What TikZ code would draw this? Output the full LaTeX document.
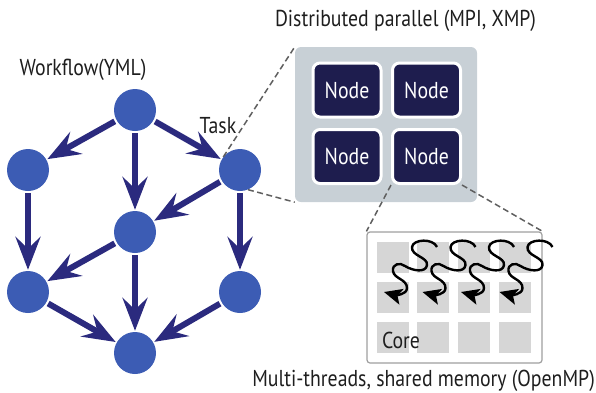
\documentclass[tikz,border=0pt]{standalone}
\usepackage{fontspec}
\setmainfont{PT Sans}[FakeStretch=0.86]
\usetikzlibrary{arrows.meta}
\definecolor{circ}{RGB}{60,92,180}
\definecolor{arrc}{RGB}{43,42,126}
\definecolor{nodebg}{RGB}{30,29,78}
\definecolor{grayboxc}{RGB}{200,208,214}
\definecolor{coresqc}{RGB}{214,214,214}
\definecolor{dashc}{RGB}{95,95,95}
\definecolor{txt}{RGB}{30,30,30}
\begin{document}
\begin{tikzpicture}[x=1pt,y=-1pt,
  taskdot/.style={circle,fill=circ,minimum size=42pt,inner sep=0pt},
  flow/.style={draw=arrc,line width=6pt,-{Stealth[length=33pt,width=25pt,inset=12pt]},shorten <=2pt,shorten >=1pt},
  lbl/.style={font=\fontsize{23}{27}\selectfont,text=txt,inner sep=0pt},
  nodebox/.style={rectangle,rounded corners=7pt,fill=nodebg,draw=white,line width=3pt,minimum width=68pt,minimum height=54pt,text=white,font=\fontsize{23}{27}\selectfont,inner sep=0pt},
  zoomline/.style={draw=dashc,line width=1.5pt,dash pattern=on 6pt off 3.5pt},
  coresquare/.style={rectangle,fill=coresqc,minimum width=32pt,minimum height=31pt,inner sep=0pt},
  thread/.style={draw=black,line width=2.4pt,-{Stealth[length=18pt,width=16pt,inset=4pt]}}
]
\useasboundingbox (0,0) rectangle (596,392);

% workflow graph
\node[taskdot] (top) at (135,110) {};
\node[taskdot] (lu)  at (28,170) {};
\node[taskdot] (task) at (240,170) {};
\node[taskdot] (mid) at (135,232) {};
\node[taskdot] (ll)  at (28,292) {};
\node[taskdot] (rl)  at (240,292) {};
\node[taskdot] (bot) at (135,353) {};

\draw[flow] (top) -- (lu);
\draw[flow] (top) -- (mid);
\draw[flow] (top) -- (task);
\draw[flow] (lu) -- (ll);
\draw[flow] (task) -- (mid);
\draw[flow] (task) -- (rl);
\draw[flow] (mid) -- (ll);
\draw[flow] (mid) -- (bot);
\draw[flow] (ll) -- (bot);
\draw[flow] (rl) -- (bot);

\node[lbl] (wf) at (83,70) {Workflow(YML)};
\node[lbl] (tasklbl) at (218,126) {Task};

% distributed parallel
\node[rectangle,fill=grayboxc,rounded corners=6pt,minimum width=182pt,minimum height=155pt,inner sep=0pt] (dist) at (386,124.5) {};
\node[nodebox] (n1) at (347,90) {Node};
\node[nodebox] (n2) at (426.5,90) {Node};
\node[nodebox] (n3) at (347,156.5) {Node};
\node[nodebox] (n4) at (426.5,156.5) {Node};
\node[lbl] (distlbl) at (405.5,21) {Distributed parallel (MPI, XMP)};

% cores
\node[rectangle,draw=gray!75,fill=white,line width=1.2pt,rounded corners=3pt,minimum width=175pt,minimum height=131pt,inner sep=0pt] (core) at (454.5,297.5) {};
\foreach \c/\x in {1/393,2/433,3/474,4/515}{
  \foreach \r/\y in {1/257.5,2/297.5,3/337.5}{
    \node[coresquare] (c\r\c) at (\x,\y) {};
  }
}
\node[lbl] (corelbl) at (401,340) {Core};
\foreach \i in {0,1,2,3}{
  \draw[thread,shift={(437+38.5*\i,247)}]
    (0,0) .. controls (-4,-9) and (-24,-8) .. (-25,0)
    .. controls (-26,9) and (-9,10) .. (-10,18)
    .. controls (-11,26) and (-24,24) .. (-32,19)
    .. controls (-37,15) and (-45,17) .. (-44,24)
    .. controls (-43,32) and (-30,32) .. (-30,41)
    .. controls (-30,48) and (-42,48) .. (-53,45);
}
\node[lbl,anchor=east] (corecap) at (595,381) {Multi-threads, shared memory (OpenMP)};

% zoom lines
\draw[zoomline] (task.142) -- (dist.north west);
\draw[zoomline] (task.-68) -- (dist.south west);
\draw[zoomline] (n4.south west) -- (core.north west);
\draw[zoomline] (n4.south east) -- (core.north east);
\end{tikzpicture}
\end{document}
